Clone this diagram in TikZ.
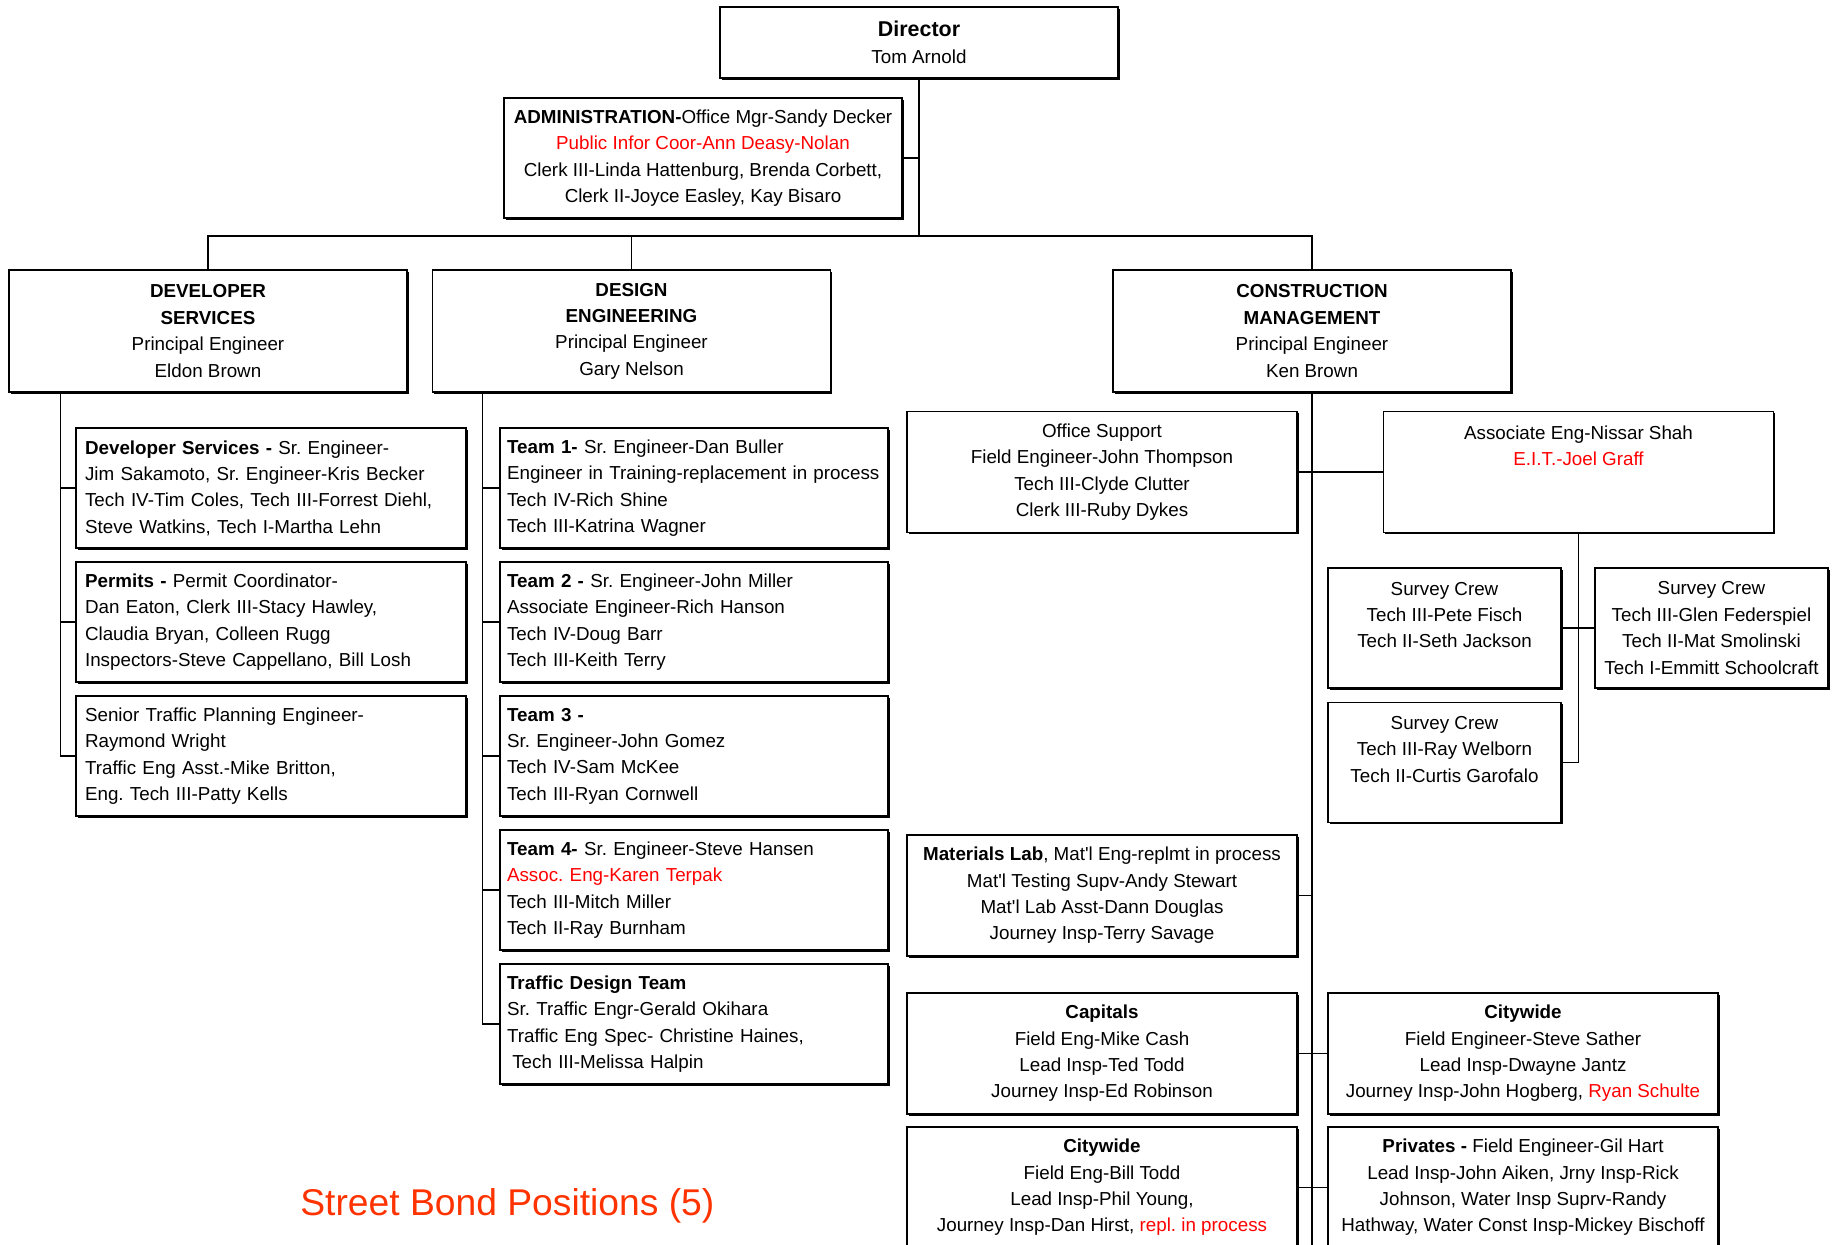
\documentclass[tikz,border=0pt]{standalone}
\usepackage{fontspec}
\setmainfont{Liberation Sans}
\usetikzlibrary{shadows}
\definecolor{bondred}{RGB}{255,51,0}
\newcommand{\chartfont}{\fontsize{10.7}{15}\selectfont\frenchspacing}
\tikzset{
  orgbox/.style={draw, line width=0.7pt, fill=white, inner sep=0pt, font=\chartfont,
    drop shadow={shadow xshift=1pt, shadow yshift=-1pt, opacity=1, fill=black}},
  headbox/.style={orgbox, minimum width=7.96cm, minimum height=2.44cm, align=center},
  devteam/.style={orgbox, text width=7.44cm, inner xsep=0.18cm, minimum height=2.4cm, align=left},
  desteam/.style={orgbox, text width=7.48cm, inner xsep=0.14cm, minimum height=2.4cm, align=left},
  cmbox/.style={orgbox, minimum width=7.8cm, minimum height=2.42cm, align=center},
  crewbox/.style={orgbox, minimum width=4.66cm, minimum height=2.4cm, align=center},
  orgline/.style={line width=0.6pt}
}

\begin{document}
\begin{tikzpicture}[x=0.02cm, y=-0.02cm]
        \useasboundingbox (0,0) rectangle (1835,1244);
        \clip (0,0) rectangle (1835,1244);
        % top of the chart
        \node[headbox, minimum height=1.42cm] (director) at (919,42.5) {{\fontsize{12.2}{15}\selectfont\textbf{Director}}\\Tom Arnold};
        \node[headbox, minimum height=2.4cm] (admin) at (703,158) {%
          \textbf{ADMINISTRATION-}Office Mgr-Sandy Decker\\
          \textcolor{red}{Public Infor Coor-Ann Deasy-Nolan}\\
          Clerk III-Linda Hattenburg, Brenda Corbett,\\
          Clerk II-Joyce Easley, Kay Bisaro};
        \node[headbox] (dev) at (208,331) {\textbf{DEVELOPER}\\\textbf{SERVICES}\\Principal Engineer\\Eldon Brown};
        \node[headbox] (design) at (631.5,331) {\textbf{DESIGN}\\\textbf{ENGINEERING}\\Principal Engineer\\Gary Nelson};
        \node[headbox] (cm) at (1312,331) {\textbf{CONSTRUCTION}\\\textbf{MANAGEMENT}\\Principal Engineer\\Ken Brown};
        \coordinate (bus) at (919,236);

        % developer services
        \node[devteam] (dev1) at (271,488) {%
          \textbf{Developer Services -} Sr. Engineer-\\
          Jim Sakamoto, Sr. Engineer-Kris Becker\\
          Tech IV-Tim Coles, Tech III-Forrest Diehl,\\
          Steve Watkins, Tech I-Martha Lehn};
        \node[devteam] (dev2) at (271,622) {%
          \textbf{Permits -} Permit Coordinator-\\
          Dan Eaton, Clerk III-Stacy Hawley,\\
          Claudia Bryan, Colleen Rugg\\
          Inspectors-Steve Cappellano, Bill Losh};
        \node[devteam] (dev3) at (271,756) {%
          Senior Traffic Planning Engineer-\\
          Raymond Wright\\
          Traffic Eng Asst.-Mike Britton,\\
          Eng. Tech III-Patty Kells};

        % design engineering
        \node[desteam] (team1) at (694,488) {%
          \textbf{Team 1-} Sr. Engineer-Dan Buller\\
          Engineer in Training-replacement in process\\
          Tech IV-Rich Shine\\
          Tech III-Katrina Wagner};
        \node[desteam] (team2) at (694,622) {%
          \textbf{Team 2 -} Sr. Engineer-John Miller\\
          Associate Engineer-Rich Hanson\\
          Tech IV-Doug Barr\\
          Tech III-Keith Terry};
        \node[desteam] (team3) at (694,756) {%
          \textbf{Team 3 -}\\
          Sr. Engineer-John Gomez\\
          Tech IV-Sam McKee\\
          Tech III-Ryan Cornwell};
        \node[desteam] (team4) at (694,890) {%
          \textbf{Team 4-} Sr. Engineer-Steve Hansen\\
          \textcolor{red}{Assoc. Eng-Karen Terpak}\\
          Tech III-Mitch Miller\\
          Tech II-Ray Burnham};
        \node[desteam] (team5) at (694,1024) {%
          \textbf{Traffic Design Team}\\
          Sr. Traffic Engr-Gerald Okihara\\
          Traffic Eng Spec- Christine Haines,\\
          \hspace*{0.28em}Tech III-Melissa Halpin};

        % construction management
        \node[cmbox] (office) at (1102,472) {Office Support\\Field Engineer-John Thompson\\Tech III-Clyde Clutter\\Clerk III-Ruby Dykes};
        \node[cmbox] (assoc) at (1578.5,472) {Associate Eng-Nissar Shah\\\textcolor{red}{E.I.T.-Joel Graff}\\\mbox{}\\\mbox{}};
        \node[crewbox] (crew1) at (1444.5,628) {Survey Crew\\Tech III-Pete Fisch\\Tech II-Seth Jackson\\\mbox{}};
        \node[crewbox] (crew2) at (1711.5,628) {Survey Crew\\Tech III-Glen Federspiel\\Tech II-Mat Smolinski\\Tech I-Emmitt Schoolcraft};
        \node[crewbox] (crew3) at (1444.5,762.5) {Survey Crew\\Tech III-Ray Welborn\\Tech II-Curtis Garofalo\\\mbox{}};
        \node[cmbox] (matlab) at (1102,895.5) {%
          \textbf{Materials Lab}, Mat\textquotesingle l Eng-replmt in process\\
          Mat\textquotesingle l Testing Supv-Andy Stewart\\
          Mat\textquotesingle l Lab Asst-Dann Douglas\\
          Journey Insp-Terry Savage};
        \node[cmbox] (capitals) at (1102,1053.5) {\textbf{Capitals}\\Field Eng-Mike Cash\\Lead Insp-Ted Todd\\Journey Insp-Ed Robinson};
        \node[cmbox] (citywide) at (1523,1053.5) {%
          \textbf{Citywide}\\Field Engineer-Steve Sather\\Lead Insp-Dwayne Jantz\\
          Journey Insp-John Hogberg, \textcolor{red}{Ryan Schulte}};
        \node[cmbox] (citywideb) at (1102,1187.5) {%
          \textbf{Citywide}\\Field Eng-Bill Todd\\Lead Insp-Phil Young,\\
          Journey Insp-Dan Hirst, \textcolor{red}{repl. in process}};
        \node[cmbox] (privates) at (1523,1187.5) {%
          \textbf{Privates -} Field Engineer-Gil Hart\\
          Lead Insp-John Aiken, Jrny Insp-Rick\\
          Johnson, Water Insp Suprv-Randy\\
          Hathway, Water Const Insp-Mickey Bischoff};
        \coordinate (cmend) at (1312,1250);

        \node[anchor=base west, inner sep=0pt, text=bondred, font=\fontsize{21.2}{25}\selectfont] (bond) at (300,1215) {Street Bond Positions (5)};

        % connectors
        \draw[orgline] (director.south) -- (bus);
        \draw[orgline] (admin.east) -- (admin.east -| director.south);
        \draw[orgline] (dev.north) |- (bus) -| (cm.north);
        \draw[orgline] (design.north) -- (design.north |- bus);

        \coordinate (devbus) at ([xshift=-0.3cm]dev1.west |- dev.south);
        \draw[orgline] (devbus) |- (dev3.west);
        \foreach \n in {1,2} {
          \draw[orgline] (dev\n.west) -- (dev\n.west -| devbus);
        }
        \coordinate (desbus) at ([xshift=-0.34cm]team1.west |- design.south);
        \draw[orgline] (desbus) |- (team5.west);
        \foreach \n in {1,...,4} {
          \draw[orgline] (team\n.west) -- (team\n.west -| desbus);
        }

        \draw[orgline] (cm.south) -- (cmend);
        \draw[orgline] (office.east) -- (assoc.west);
        \draw[orgline] (matlab.east) -- (matlab.east -| cm.south);
        \draw[orgline] (capitals.east) -- (citywide.west);
        \draw[orgline] (citywideb.east) -- (privates.west);
        \draw[orgline] (assoc.south) |- (crew3.east);
        \draw[orgline] (crew1.east) -- (crew2.west);
\end{tikzpicture}
\end{document}
